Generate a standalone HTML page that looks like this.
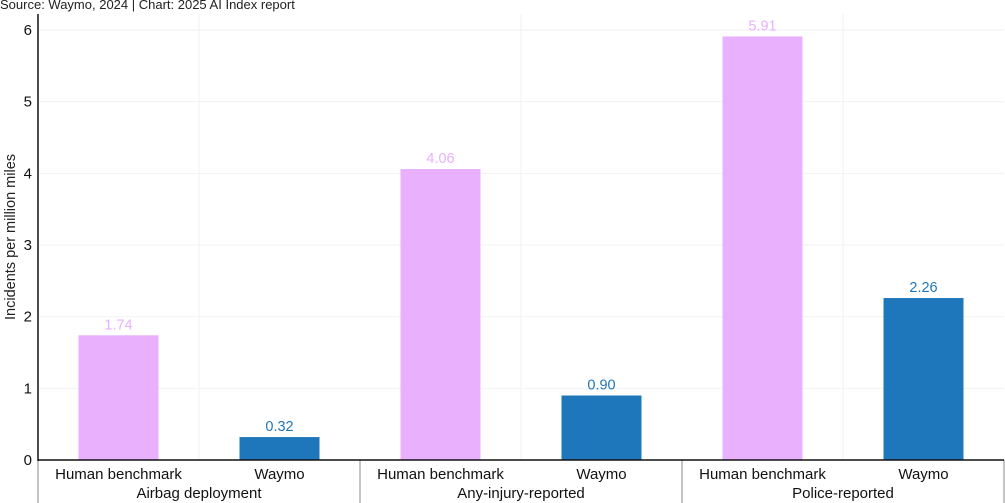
<!DOCTYPE html>
<html><head><meta charset="utf-8"><style>
html,body{margin:0;padding:0;background:#fff;}
svg{display:block;font-family:"Liberation Sans",sans-serif;}
</style></head><body>
<svg id="chart" width="1005" height="503">
<text x="0" y="9" font-size="13" fill="#222">Source: Waymo, 2024 | Chart: 2025 AI Index report</text>
<text transform="translate(15,237) rotate(-90)" text-anchor="middle" font-size="14.5" fill="#222">Incidents per million miles</text>
<g id="grid"></g><g id="bars"></g><g id="axes"></g>
</svg>
<script>
const groups = ["Airbag deployment","Any-injury-reported","Police-reported"];
const series = ["Human benchmark","Waymo"];
const humanValues = [1.74, 4.06, 5.91];
const waymoValues = [0.32, 0.90, 2.26];
const yTicks = [0,1,2,3,4,5,6];
const colors = ["#e9b0fd","#1f77bb"];
const labelColors = ["#e9b0fd","#1f77bb"];
const NS="http://www.w3.org/2000/svg";
const x0=38,x1=1004,yZero=460,yTop=30,yMax=6;
const y=v=>yZero-(v/yMax)*(yZero-yTop);
const gw=(x1-x0)/groups.length, sw=gw/series.length, bw=80;
const cx=(g,s)=>x0+g*gw+s*sw+sw/2;
function mk(tag,attrs,parent){const e=document.createElementNS(NS,tag);for(const k in attrs)e.setAttribute(k,attrs[k]);parent.appendChild(e);return e;}
const grid=document.getElementById('grid'),bars=document.getElementById('bars'),axes=document.getElementById('axes');
yTicks.forEach(t=>{
  if(t>0){const l=mk('line',{x1:x0,x2:x1,y1:y(t),y2:y(t),stroke:'#f2f2f2'},grid);
  
  }
  const tx=mk('text',{x:32,y:y(t)+5,'text-anchor':'end','font-size':15,fill:'#111'},axes);tx.textContent=t;
  
  
});
for(let i=1;i<groups.length*2;i++){
  const xx=x0+i*sw;
  if(i%2===1){const l=mk('line',{x1:xx,x2:xx,y1:14,y2:yZero,stroke:'#f2f2f2'},grid);
  
  }
}
const vals=[humanValues,waymoValues];
groups.forEach((g,gi)=>{
  series.forEach((s,si)=>{
    const v=vals[si][gi];
    const r=mk('rect',{x:cx(gi,si)-bw/2,y:y(v),width:bw,height:yZero-y(v),fill:colors[si]},bars);
    
    
    const t=mk('text',{x:cx(gi,si),y:y(v)-6,'text-anchor':'middle','font-size':14.5,fill:labelColors[si]},bars);t.textContent=v.toFixed(2);
    
    
    const xl=mk('text',{x:cx(gi,si),y:479,'text-anchor':'middle','font-size':15,fill:'#111'},axes);xl.textContent=s;
    
    
  });
  const gl=mk('text',{x:x0+gi*gw+gw/2,y:498,'text-anchor':'middle','font-size':15,fill:'#111'},axes);gl.textContent=g;
  
  
});
for(let i=0;i<=groups.length;i++){
  const xx=x0+i*gw;
  const l=mk('line',{x1:xx,x2:xx,y1:yZero,y2:503,stroke:'#888'},axes);
  
  
}
const ya=mk('line',{x1:x0,x2:x0,y1:14,y2:yZero+1,stroke:'#111','stroke-width':1.5},axes);


const xa=mk('line',{x1:x0,x2:x1,y1:yZero,y2:yZero,stroke:'#111','stroke-width':1.5},axes);


</script>
</body></html>
